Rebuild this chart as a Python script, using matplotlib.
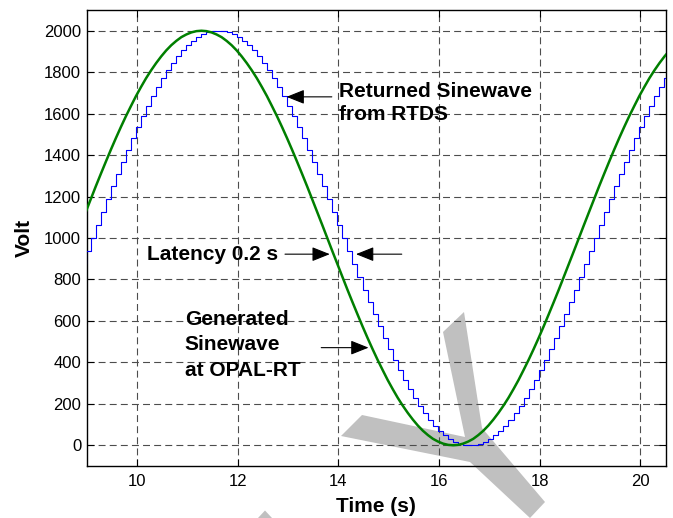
import numpy as np
import matplotlib
matplotlib.use('Agg')
import matplotlib.pyplot as plt
from matplotlib.patches import Polygon

plt.rcParams['font.family'] = ['Liberation Sans', 'DejaVu Sans']
plt.rcParams['lines.scale_dashes'] = False

# generated sinewave (OPAL-RT), one sample every 0.1 s starting at 8.48 s
sample_start = 8.48
sample_step = 0.1
generated_volt = [
    813, 875, 937,
    1000, 1063, 1125, 1187, 1249, 1309, 1368, 1426, 1482, 1536, 1588, 1637, 1685,
    1729, 1771, 1809, 1844, 1876, 1905, 1930, 1951, 1969, 1982, 1992, 1998, 2000,
    1998, 1992, 1982, 1969, 1951, 1930, 1905, 1876, 1844, 1809, 1771, 1729, 1685,
    1637, 1588, 1536, 1482, 1426, 1368, 1309, 1249, 1187, 1125, 1063, 1000,
    937, 875, 813, 751, 691, 632, 574, 518, 464, 412, 363, 315, 271, 229, 191,
    156, 124, 95, 70, 49, 31, 18, 8, 2, 0,
    2, 8, 18, 31, 49, 70, 95, 124, 156, 191, 229, 271, 315, 363, 412, 464, 518,
    574, 632, 691, 751, 813, 875, 937, 1000,
    1063, 1125, 1187, 1249, 1309, 1368, 1426, 1482, 1536, 1588, 1637, 1685, 1729,
    1771, 1809, 1844, 1876, 1905,
]
# returned staircase from RTDS sits this far to the right of the generated wave
returned_shift = 0.3

x_ticks = [10, 12, 14, 16, 18, 20]
y_ticks = [0, 200, 400, 600, 800, 1000, 1200, 1400, 1600, 1800, 2000]

returned_lines = ['Returned Sinewave', 'from RTDS']
latency_text = 'Latency 0.2 s'
generated_lines = ['Generated', 'Sinewave', 'at OPAL-RT']

t = np.round(sample_start + sample_step * np.arange(len(generated_volt)), 2)
v = np.array(generated_volt)

W, H = 673, 518
fig = plt.figure(figsize=(W / 100, H / 100), dpi=100)
ax = fig.add_axes([86.7 / W, 52 / H, 578.8 / W, 456 / H])
ax.set_facecolor('none')

# grey watermark strokes behind the plot (figure pixels, y down)
wm = [
    [(443, 332), (464, 312), (482, 428), (545, 502), (530, 518), (470, 462),
     (341, 436), (362, 415), (465, 437)],
    [(258, 518), (265, 510.5), (272, 518)],
]
for shape in wm:
    pts = [(x / W, 1 - y / H) for x, y in shape]
    fig.add_artist(Polygon(pts, closed=True, transform=fig.transFigure,
                           facecolor='#c0c0c0', edgecolor='none', zorder=-1))

ax.step(t + returned_shift, v, where='post', color='#0000ff', lw=0.8, zorder=3)
ax.plot(t, v, color='#007f00', lw=1.8, zorder=4)

ax.set_xlim(9, 20.5)
ax.set_ylim(-100, 2100)
ax.set_xticks(x_ticks)
ax.set_yticks(y_ticks)
ax.grid(True, color='0.3', lw=0.8, linestyle=(0, (5, 3)))
ax.set_axisbelow(True)
ax.tick_params(direction='in', top=True, right=True, length=5, width=0.8,
               labelsize=12)
ax.tick_params(axis='x', pad=6)
ax.tick_params(axis='y', pad=4)
for s in ax.spines.values():
    s.set_linewidth(1.0)

ax.set_xlabel('Time (s)', fontsize=15, fontweight='bold')
ax.xaxis.set_label_coords(0.5, -0.068)
ax.set_ylabel('Volt', fontsize=15, fontweight='bold')
ax.yaxis.set_label_coords(-0.091, 0.5)

txt = dict(fontsize=15, fontweight='bold', va='baseline', ha='left')
ax.text(14.02, 1681, returned_lines[0], **txt)
ax.text(14.02, 1568, returned_lines[1], **txt)
ax.text(10.19, 893, latency_text, **txt)
ax.text(10.95, 579, generated_lines[0], **txt)
ax.text(10.95, 460, generated_lines[1], **txt)
ax.text(10.95, 333, generated_lines[2], **txt)

arrow = dict(arrowstyle='-|>,head_length=0.55,head_width=0.22',
             mutation_scale=20, color='black', lw=0.8, shrinkA=0, shrinkB=0)
ax.annotate('', xy=(12.97, 1681), xytext=(13.87, 1681), arrowprops=arrow)
ax.annotate('', xy=(13.83, 922), xytext=(12.94, 922), arrowprops=arrow)
ax.annotate('', xy=(14.35, 922), xytext=(15.26, 922), arrowprops=arrow)
ax.annotate('', xy=(14.60, 471), xytext=(13.66, 471), arrowprops=arrow)

fig.savefig('out.png', dpi=100)
